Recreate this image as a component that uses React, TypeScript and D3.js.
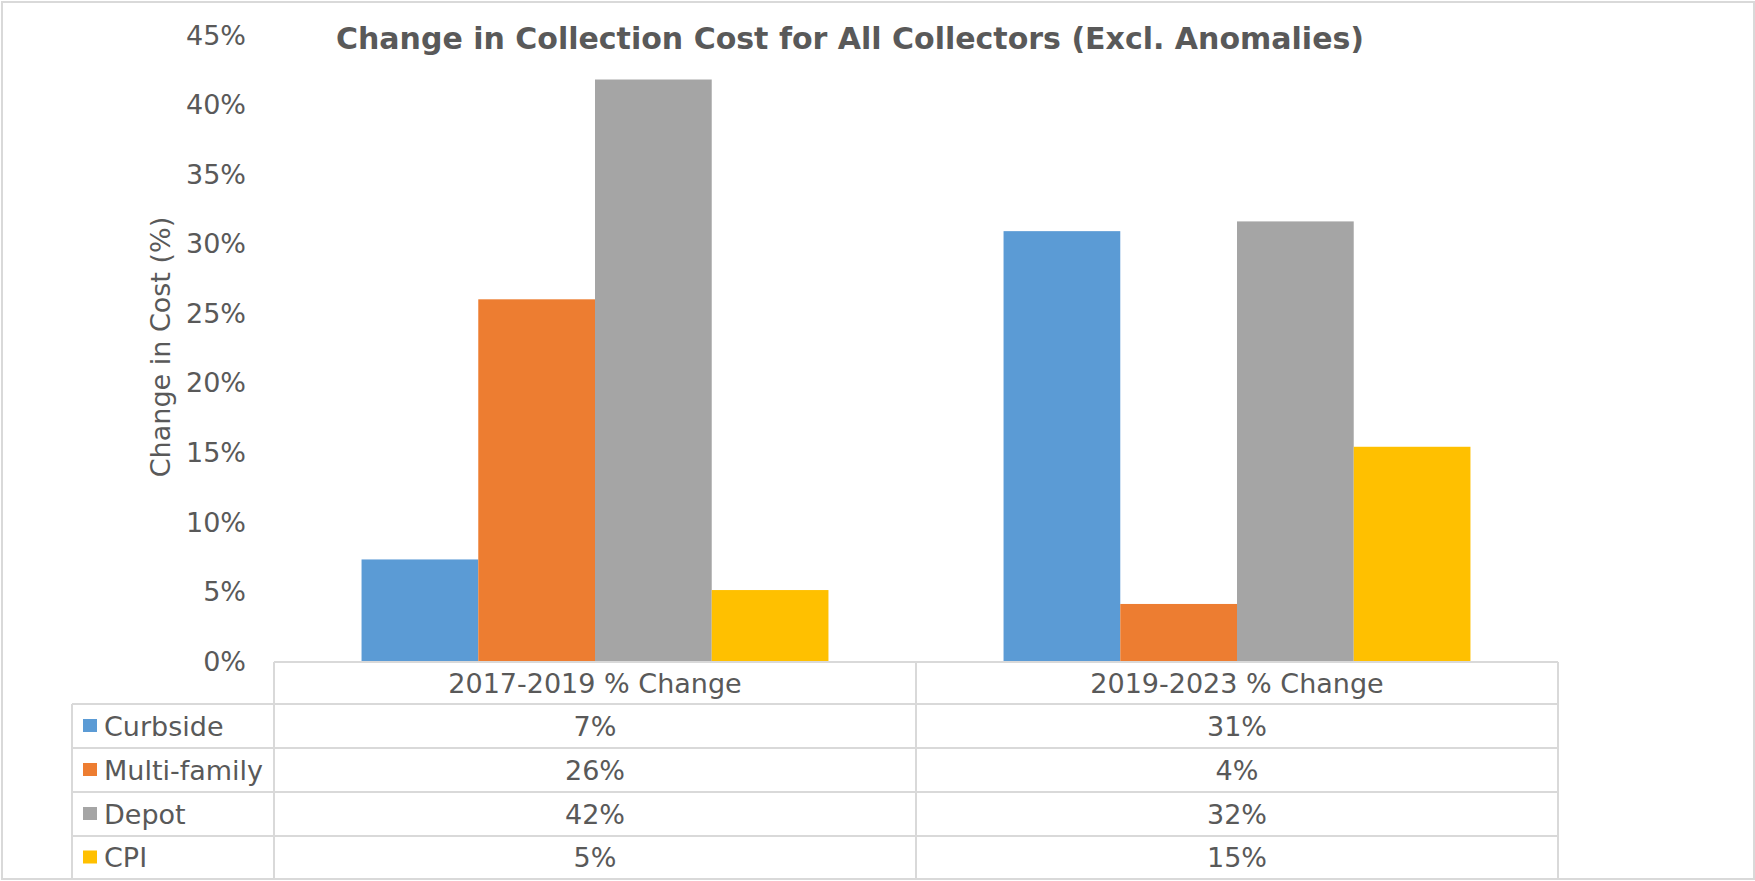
import React from "react";
import * as d3 from "d3";

const categories = ["2017-2019 % Change", "2019-2023 % Change"];
const seriesNames = ["Curbside", "Multi-family", "Depot", "CPI"];
const curbside = [7.3, 30.9];
const multiFamily = [26.0, 4.1];
const depot = [41.8, 31.6];
const cpi = [5.1, 15.4];
const tableLabels = [
  ["7%", "31%"],
  ["26%", "4%"],
  ["42%", "32%"],
  ["5%", "15%"],
];
const yTicks = [0, 5, 10, 15, 20, 25, 30, 35, 40, 45];
const colors = ["#5B9BD5", "#ED7D31", "#A5A5A5", "#FFC000"];

const W = 1755;
const H = 881;
const FONT = "'DejaVu Sans', Verdana, sans-serif";
const TEXT = "#595959";
const LINE = "#d9d9d9";

export default function App() {
  const values = [curbside, multiFamily, depot, cpi];
  const plotLeft = 274;
  const plotRight = 1558;
  const y = d3.scaleLinear().domain([0, 45]).range([661, 35]);
  const x0 = d3.scaleBand<string>().domain(categories).range([plotLeft, plotRight]).padding(0);
  const x1 = d3
    .scaleBand<string>()
    .domain(seriesNames)
    .range([0, x0.bandwidth()])
    .paddingInner(0)
    .paddingOuter(0.75);

  const tableTop = 662;
  const rowYs = [662, 704, 748, 792, 836, 879];
  const legendLeft = 72;

  return (
    <svg
      width={W}
      height={H}
      style={{ position: "absolute", left: 0, top: 0, background: "#fff" }}
      fontFamily={FONT}
    >
      <rect x={0} y={0} width={W} height={H} fill="#fff" />
      <rect x={2} y={2} width={1752} height={877} fill="none" stroke={LINE} strokeWidth={2} />

      <text x={850} y={49} textAnchor="middle" fontSize={30} fontWeight="bold" fill={TEXT}>
        Change in Collection Cost for All Collectors (Excl. Anomalies)
      </text>

      {yTicks.map((t) => (
        <text key={t} x={246} y={y(t)} dy="0.36em" textAnchor="end" fontSize={27} fill={TEXT}>
          {t}%
        </text>
      ))}

      <text
        transform={`translate(160,347) rotate(-90)`}
        textAnchor="middle"
        dy="0.36em"
        fontSize={27}
        fill={TEXT}
      >
        Change in Cost (%)
      </text>

      {categories.map((c, ci) =>
        seriesNames.map((s, si) => (
          <rect
            key={c + s}
            x={(x0(c) as number) + (x1(s) as number)}
            y={y(values[si][ci])}
            width={x1.bandwidth()}
            height={y(0) - y(values[si][ci])}
            fill={colors[si]}
          />
        ))
      )}

      {/* data table lines */}
      <line x1={plotLeft} x2={plotRight} y1={tableTop} y2={tableTop} stroke={LINE} strokeWidth={2} />
      {rowYs.slice(1, 5).map((ry) => (
        <line key={ry} x1={legendLeft} x2={plotRight} y1={ry} y2={ry} stroke={LINE} strokeWidth={2} />
      ))}
      <line x1={legendLeft} x2={legendLeft} y1={rowYs[1]} y2={879} stroke={LINE} strokeWidth={2} />
      {[plotLeft, (x0(categories[1]) as number), plotRight].map((lx) => (
        <line key={lx} x1={lx} x2={lx} y1={tableTop} y2={879} stroke={LINE} strokeWidth={2} />
      ))}

      {categories.map((c) => (
        <text
          key={c}
          x={(x0(c) as number) + x0.bandwidth() / 2}
          y={(rowYs[0] + rowYs[1]) / 2}
          dy="0.36em"
          textAnchor="middle"
          fontSize={27}
          fill={TEXT}
        >
          {c}
        </text>
      ))}

      {seriesNames.map((s, si) => {
        const cy = (rowYs[si + 1] + rowYs[si + 2]) / 2;
        return (
          <g key={s}>
            <rect x={83} y={cy - 7} width={14} height={13} fill={colors[si]} />
            <text x={104} y={cy} dy="0.36em" fontSize={27} fill={TEXT}>
              {s}
            </text>
            {categories.map((c, ci) => (
              <text
                key={c}
                x={(x0(c) as number) + x0.bandwidth() / 2}
                y={cy}
                dy="0.36em"
                textAnchor="middle"
                fontSize={27}
                fill={TEXT}
              >
                {tableLabels[si][ci]}
              </text>
            ))}
          </g>
        );
      })}
    </svg>
  );
}
